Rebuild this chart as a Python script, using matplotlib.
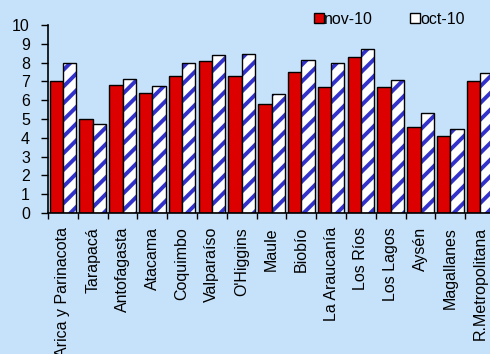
import matplotlib
matplotlib.use("Agg")
import matplotlib.pyplot as plt
import numpy as np
from matplotlib.patches import Patch, Rectangle

regions = ["Arica y Parinacota", "Tarapacá", "Antofagasta", "Atacama", "Coquimbo",
           "Valparaíso", "O'Higgins", "Maule", "Biobío", "La Araucanía", "Los Ríos",
           "Los Lagos", "Aysén", "Magallanes", "R.Metropolitana"]
nov10 = [7.0, 5.0, 6.8, 6.4, 7.3, 8.1, 7.3, 5.8, 7.5, 6.7, 8.3, 6.7, 4.6, 4.1, 7.0]
oct10 = [8.0, 4.75, 7.15, 6.75, 8.0, 8.4, 8.45, 6.35, 8.15, 8.0, 8.7, 7.05, 5.3, 4.45, 7.45]
yticks = list(range(0, 11))

plt.rcParams['font.family'] = ['Liberation Sans', 'DejaVu Sans']
plt.rcParams['hatch.linewidth'] = 2.8

bg = '#C6E2FA'
red = '#DD0000'
blue = '#3333CC'
W, H = 490, 354
fs = 11.5
fig = plt.figure(figsize=(W / 100, H / 100), dpi=100, facecolor=bg)
ax = fig.add_axes([48 / W, 1 - 213 / H, (495 - 48) / W, (213 - 25) / H])
ax.set_facecolor(bg)

x = np.arange(len(regions))
bw = 0.445
ax.bar(x - bw / 2, nov10, bw, color=red, edgecolor='black', linewidth=1.0, zorder=2)
# hatched fill (blue stripes) then black outline on top
ax.bar(x + bw / 2, oct10, bw, color='white', edgecolor=blue, linewidth=0,
       hatch='//', zorder=2)
ax.bar(x + bw / 2, oct10, bw, fill=False, edgecolor='black', linewidth=1.0, zorder=3)

ax.set_xlim(-0.5, len(regions) - 0.5)
ax.set_ylim(0, 10)
ax.set_yticks(yticks)
ax.set_yticklabels([str(t) for t in yticks], fontsize=fs)
ax.tick_params(axis='y', direction='out', length=5, width=1, pad=8)

ax.set_xticks(x)
ax.set_xticklabels(regions, rotation=90, fontsize=fs, va='top', ha='center')
ax.tick_params(axis='x', which='major', length=0, pad=10)
ax.set_xticks(np.arange(len(regions) + 1) - 0.5, minor=True)
ax.tick_params(axis='x', which='minor', direction='out', length=4, width=1)

for s in ['top', 'right']:
    ax.spines[s].set_visible(False)
for s in ['left', 'bottom']:
    ax.spines[s].set_linewidth(1.2)
    ax.spines[s].set_color('black')

h_nov = Patch(facecolor=red, edgecolor='black', linewidth=1.0)
h_oct = Patch(facecolor='white', edgecolor='black', linewidth=1.0)
fig.legend(handles=[h_nov, h_oct], labels=['nov-10', 'oct-10'],
           loc='center left', bbox_to_anchor=(314 / W, 1 - 19 / H),
           ncol=2, frameon=False, fontsize=fs, handlelength=0.6, handleheight=0.6,
           handletextpad=0.05, columnspacing=2.3, borderaxespad=0, borderpad=0)

fig.savefig('out.png', dpi=100, facecolor=bg)
